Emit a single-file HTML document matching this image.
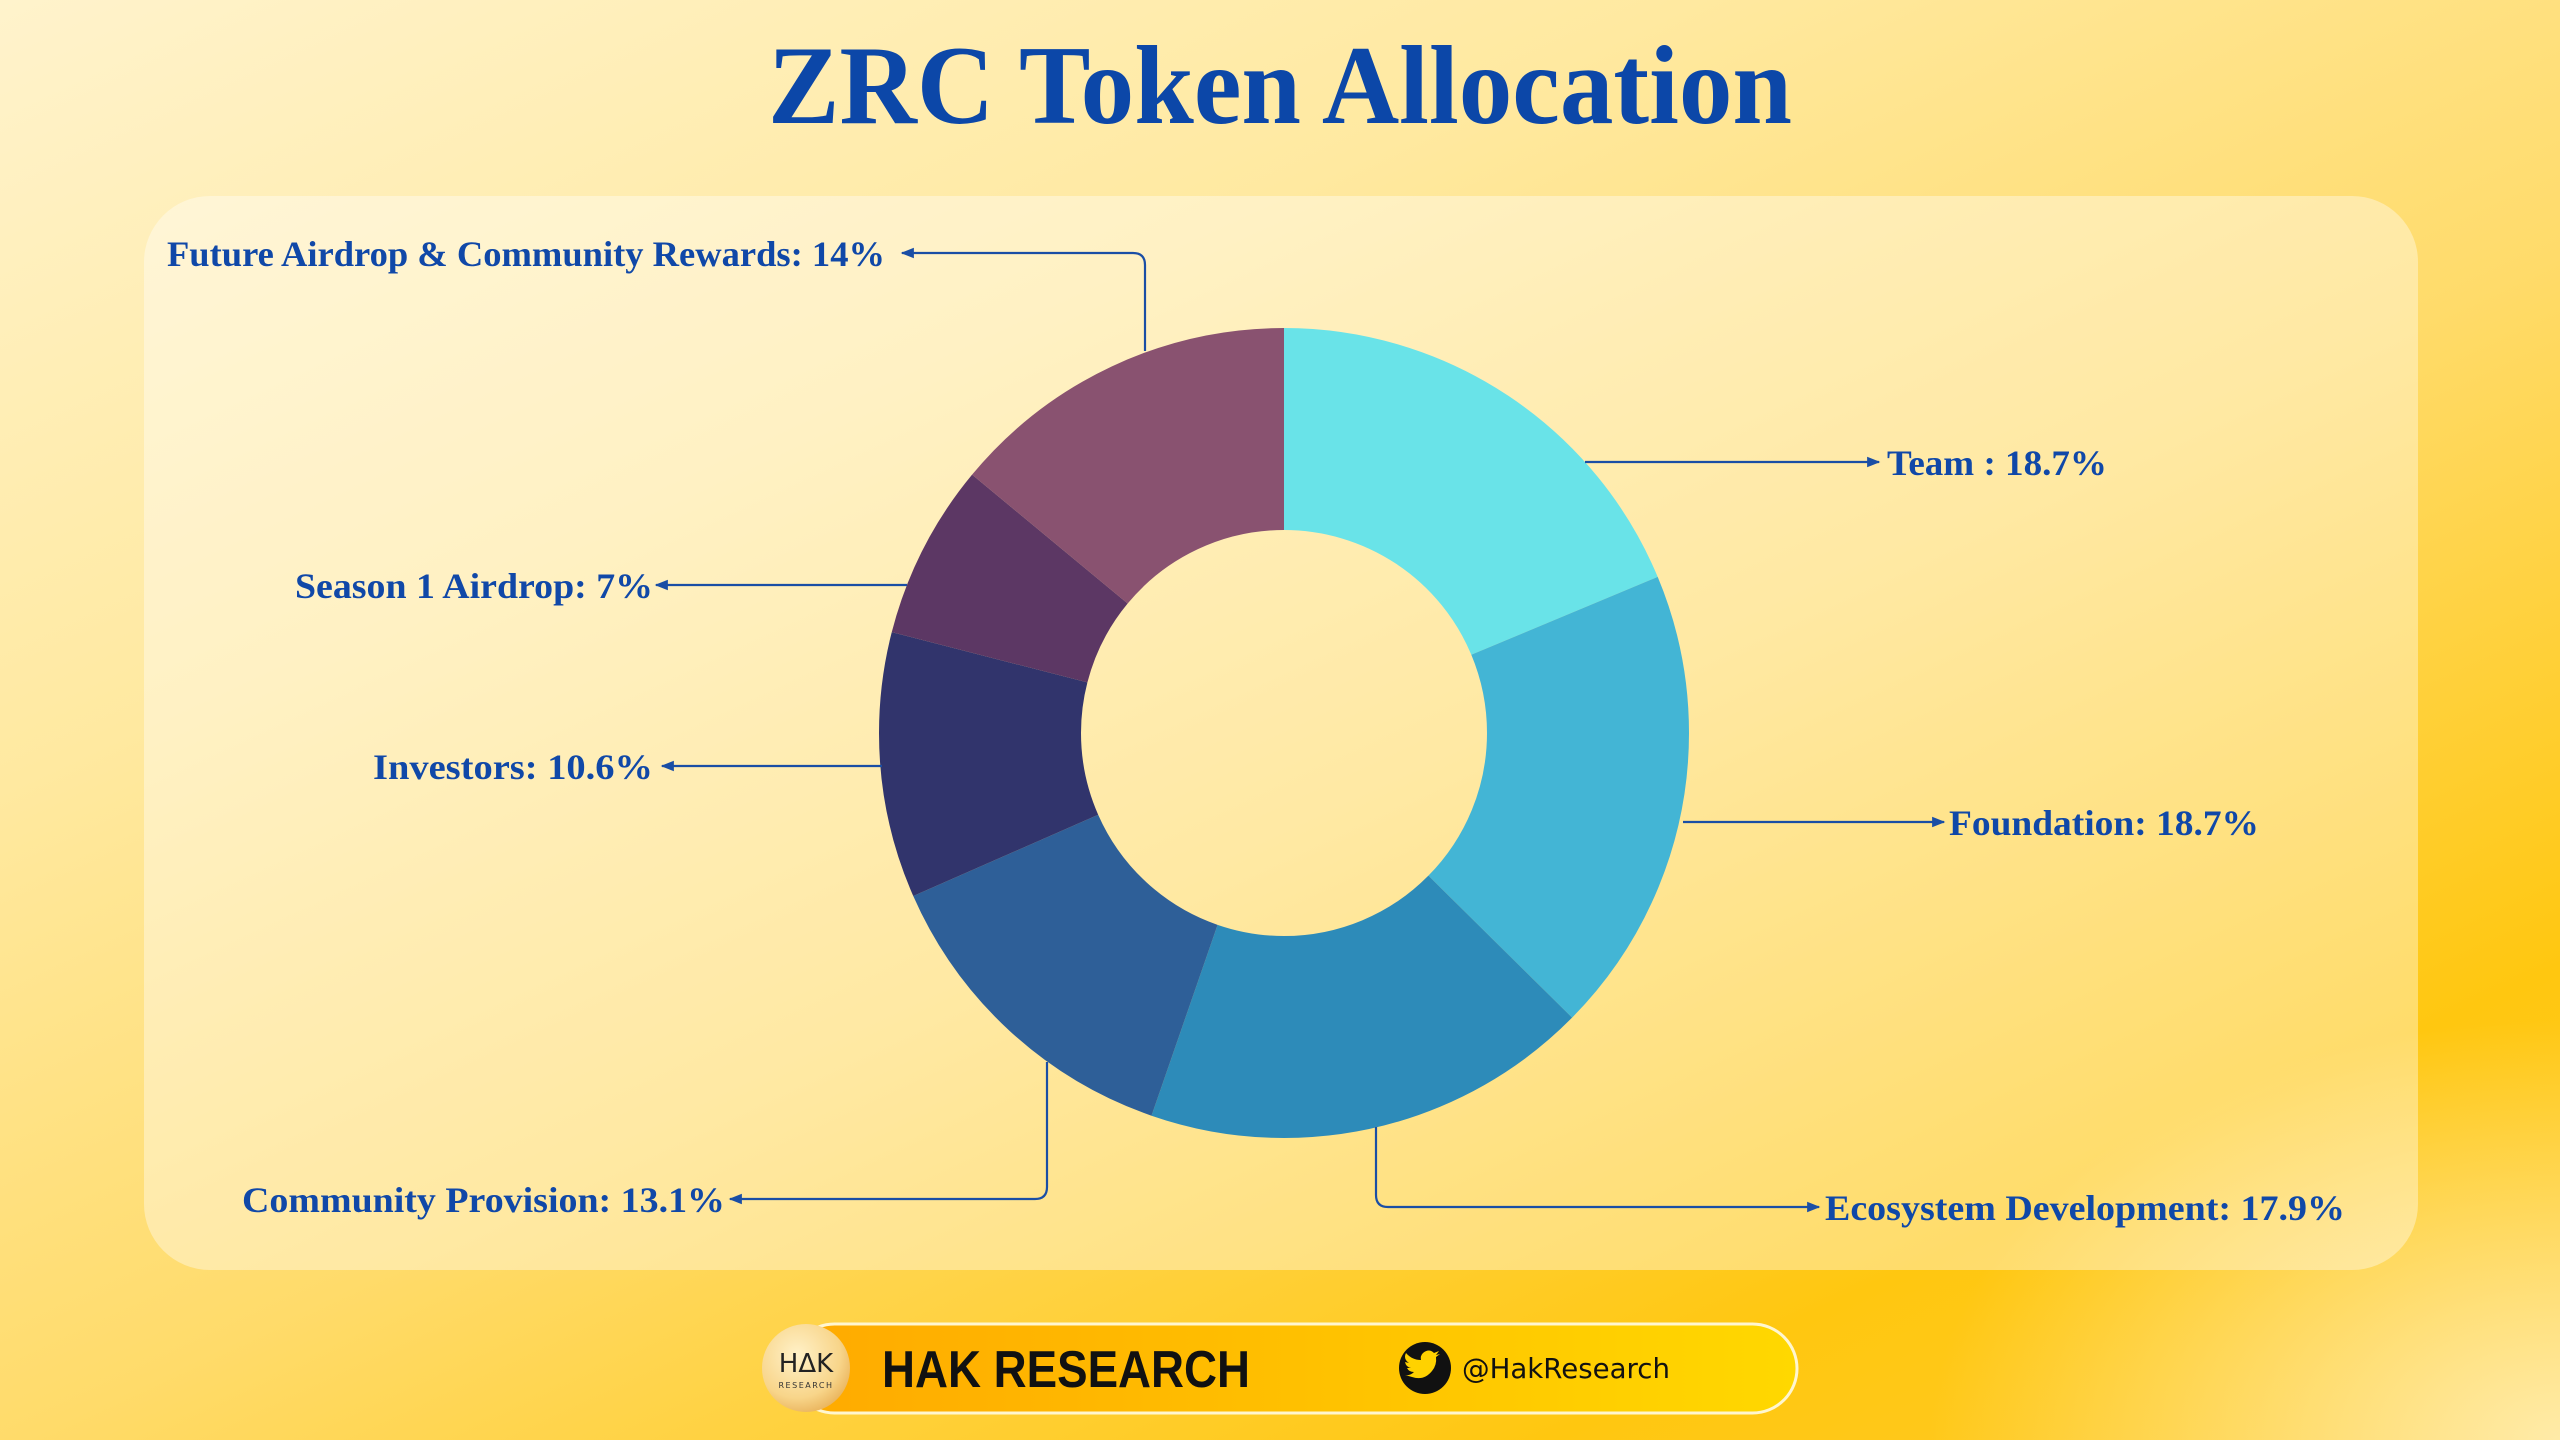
<!DOCTYPE html>
<html><head><meta charset="utf-8"><style>
html,body{margin:0;padding:0}
body{width:2560px;height:1440px;overflow:hidden;position:relative;
background:
radial-gradient(ellipse 900px 600px at 2560px 1440px,#FFEBA8 0%,rgba(255,235,168,0) 70%),
linear-gradient(155deg,#FFF3CC 0%,#FFE9A0 30%,#FFDB6A 55%,#FFC710 82%,#FFCB2A 100%);
font-family:"Liberation Serif",serif}
</style></head><body>
<svg width="2560" height="1440" viewBox="0 0 2560 1440" xmlns="http://www.w3.org/2000/svg" style="position:absolute;left:0;top:0">
<defs>
<linearGradient id="pill" x1="0" x2="1" y1="0" y2="0"><stop offset="0" stop-color="#FFAA00"/><stop offset="0.5" stop-color="#FFC000"/><stop offset="1" stop-color="#FFD800"/></linearGradient>
<radialGradient id="coin" cx="0.4" cy="0.35" r="0.7"><stop offset="0" stop-color="#FFF1C8"/><stop offset="0.7" stop-color="#F8D58A"/><stop offset="1" stop-color="#E9B25A"/></radialGradient>
<marker id="ar" viewBox="0 0 10 10" refX="9" refY="5" markerWidth="6" markerHeight="6" orient="auto-start-reverse"><path d="M0,1 L10,5 L0,9 z" fill="#1A4EA5"/></marker>
</defs>
<text x="1280" y="123" text-anchor="middle" font-family="Liberation Serif" font-weight="bold" font-size="112" fill="#0C47A8" textLength="1024" lengthAdjust="spacingAndGlyphs">ZRC Token Allocation</text>
<rect x="144" y="196" width="2274" height="1074" rx="66" fill="#FFFFFF" fill-opacity="0.38"/>
<g transform="rotate(-90 1284 733)" fill="none" stroke-width="202">
<circle cx="1284" cy="733" r="304" stroke="#69E3E8" stroke-dasharray="357.19 1910.1" stroke-dashoffset="0"/>
<circle cx="1284" cy="733" r="304" stroke="#43B5D5" stroke-dasharray="357.19 1910.1" stroke-dashoffset="-357.19"/>
<circle cx="1284" cy="733" r="304" stroke="#2D8BB9" stroke-dasharray="341.91 1910.1" stroke-dashoffset="-714.38"/>
<circle cx="1284" cy="733" r="304" stroke="#2E5F98" stroke-dasharray="250.22 1910.1" stroke-dashoffset="-1056.29"/>
<circle cx="1284" cy="733" r="304" stroke="#31346C" stroke-dasharray="202.47 1910.1" stroke-dashoffset="-1306.51"/>
<circle cx="1284" cy="733" r="304" stroke="#5C3764" stroke-dasharray="133.71 1910.1" stroke-dashoffset="-1508.98"/>
<circle cx="1284" cy="733" r="304" stroke="#895270" stroke-dasharray="267.41 1910.1" stroke-dashoffset="-1642.69"/>
</g>
<g fill="none" stroke="#1A4EA5" stroke-width="2.2">
<path d="M1145,351 V265 Q1145,253 1133,253 H902" marker-end="url(#ar)"/>
<path d="M1585,462 H1879" marker-end="url(#ar)"/>
<path d="M907,585 H656" marker-end="url(#ar)"/>
<path d="M882,766 H662" marker-end="url(#ar)"/>
<path d="M1683,822 H1944" marker-end="url(#ar)"/>
<path d="M1376,1127 V1195 Q1376,1207 1388,1207 H1819" marker-end="url(#ar)"/>
<path d="M1047,1062 V1187 Q1047,1199 1035,1199 H730" marker-end="url(#ar)"/>
</g>
<g font-family="Liberation Serif" font-weight="bold" font-size="36" fill="#1048A8">
<text x="167" y="266" textLength="718" lengthAdjust="spacingAndGlyphs">Future Airdrop &amp; Community Rewards: 14%</text>
<text x="1887" y="475" textLength="220" lengthAdjust="spacingAndGlyphs">Team : 18.7%</text>
<text x="653" y="598" text-anchor="end" textLength="358" lengthAdjust="spacingAndGlyphs">Season 1 Airdrop: 7%</text>
<text x="653" y="779" text-anchor="end" textLength="280" lengthAdjust="spacingAndGlyphs">Investors: 10.6%</text>
<text x="1949" y="835" textLength="310" lengthAdjust="spacingAndGlyphs">Foundation: 18.7%</text>
<text x="1825" y="1220" textLength="520" lengthAdjust="spacingAndGlyphs">Ecosystem Development: 17.9%</text>
<text x="242" y="1212" textLength="483" lengthAdjust="spacingAndGlyphs">Community Provision: 13.1%</text>
</g>
<rect x="790" y="1324" width="1007" height="89" rx="44.5" fill="url(#pill)" stroke="#FFF6D0" stroke-width="3"/>
<circle cx="806" cy="1368" r="44" fill="url(#coin)"/>
<text x="806" y="1372" text-anchor="middle" font-family="DejaVu Sans" font-size="26" fill="#222">HΔK</text>
<text x="806" y="1388" text-anchor="middle" font-family="DejaVu Sans" font-size="8" fill="#333" letter-spacing="1.5">RESEARCH</text>
<text x="882" y="1387" font-family="Liberation Sans" font-weight="bold" font-size="52" fill="#111" textLength="368" lengthAdjust="spacingAndGlyphs">HAK RESEARCH</text>
<circle cx="1425" cy="1368" r="26" fill="#111"/>
<path d="M1412,1377 q12,4 20,-6 q5,-6 4,-14 l4,-3 l-4,1 l3,-4 l-5,2 q-5,-5 -11,0 q-3,3 -2,7 q-9,0 -15,-7 q-3,6 3,10 l-4,-1 q1,5 6,6 l-4,0 q2,4 7,4 q-4,4 -9,3 z" fill="#FFD200"/>
<text x="1462" y="1378" font-family="DejaVu Sans" font-size="28" fill="#111" textLength="208" lengthAdjust="spacingAndGlyphs">@HakResearch</text>
</svg>
</body></html>
